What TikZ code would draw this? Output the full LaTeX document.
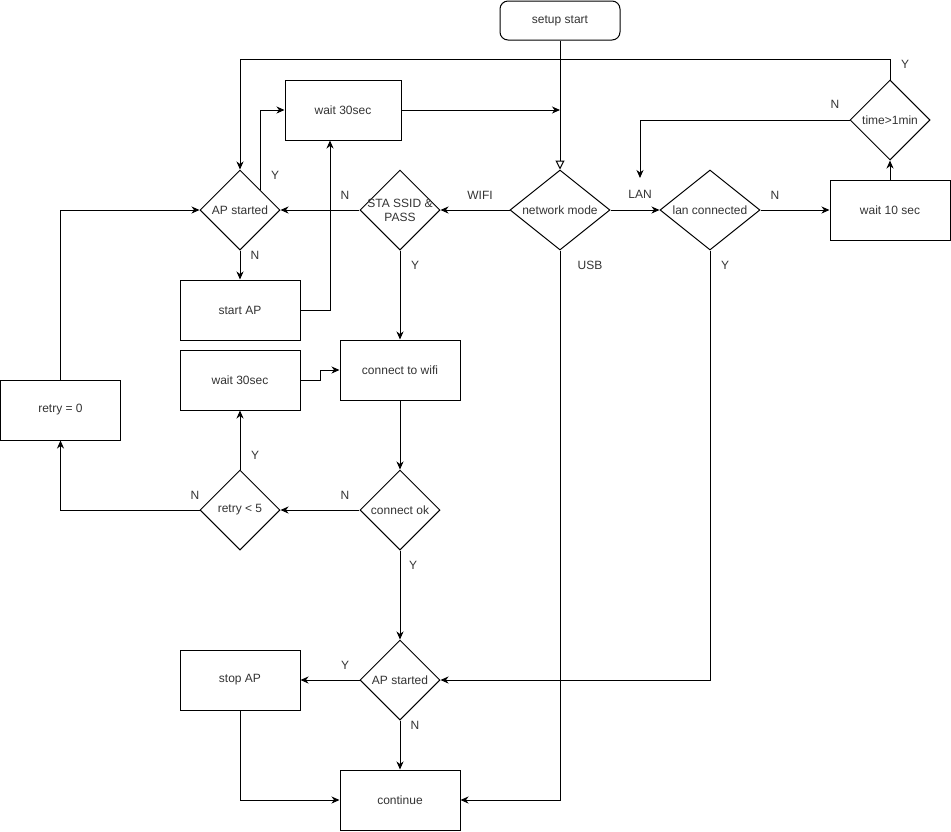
\documentclass[tikz,border=0pt]{standalone}
\usepackage{fontspec}
\setmainfont{Liberation Sans}
\usetikzlibrary{shapes.geometric, arrows.meta}
\tikzstyle{startstop} = [
    rectangle,
    rounded corners=8pt,
    minimum width=120pt,
    minimum height=39pt,
    draw=black
]
\tikzstyle{process} = [
    rectangle,
    minimum width=120pt,
    minimum height=60pt,
    draw=black
]
\tikzstyle{decision} = [
    diamond,
    inner sep=0pt,
    minimum width=80pt,
    minimum height=80pt,
    draw=black
]
\tikzstyle{answer} = [inner sep=0pt]
\tikzstyle{arrow} = [line width=1pt,->,>={Stealth[length=8pt,width=7pt,inset=2.5pt]}]
\tikzstyle{joinarrow} = [line width=1pt,-{Triangle[open,length=9pt,width=9pt]}]

\begin{document}
\begin{tikzpicture}[x=1pt, y=-1pt, line width=1pt,
    font=\fontsize{12}{14}\selectfont, text=black!80]
\useasboundingbox (0,0) rectangle (951,831);

\node (start) [startstop] at (560,20.5) {setup start};

\node (netmode) [decision, minimum width=100pt,
    label=center:network mode] at (560,210) {};
\node (sta) [decision,
    label={[align=center]center:STA SSID \&\\PASS}] at (400,210) {};
\node (apstart) [decision, label=center:AP started] at (240,210) {};
\node (wait1) [process, minimum width=116pt] at (343,110) {wait 30sec};
\node (startap) [process] at (240,310) {start AP};

\node (lanconn) [decision, minimum width=100pt,
    label=center:lan connected] at (710,210) {};
\node (wait10) [process] at (890,210) {wait 10 sec};
\node (timeout) [decision, label=center:time>1min] at (890,120) {};

\node (wifi) [process] at (400,370) {connect to wifi};
\node (wait2) [process] at (240,380) {wait 30sec};
\node (retry0) [process] at (60.5,410) {retry = 0};
\node (connok) [decision, label=center:connect ok] at (400,510) {};
\node (retry) [decision, label=center:retry < 5] at (240,510) {};

\node (apcheck) [decision, label=center:AP started] at (400,680) {};
\node (stopap) [process] at (240,680) {stop AP};
\node (cont) [process] at (400,800) {continue};

\coordinate (merge) at (560,110);
\coordinate (lanin) at (640,178);

% branch labels
\node (lwifi) [answer] at (480,195) {WIFI};
\node (llan) [answer] at (640,194) {LAN};
\node (lusb) [answer] at (590,265) {USB};
\node (lstan) [answer] at (345,195) {N};
\node (lstay) [answer] at (415,265) {Y};
\node (lapy) [answer] at (275,175) {Y};
\node (lapn) [answer] at (255,255) {N};
\node (llann) [answer] at (775,195) {N};
\node (llany) [answer] at (725,265) {Y};
\node (ltimen) [answer] at (835,104) {N};
\node (ltimey) [answer] at (905,64) {Y};
\node (lconnn) [answer] at (345,495) {N};
\node (lconny) [answer] at (413,565) {Y};
\node (lretryy) [answer] at (255,455) {Y};
\node (lretryn) [answer] at (195,495) {N};
\node (lcheckky) [answer] at (345,665) {Y};
\node (lcheckn) [answer] at (415,725) {N};

\draw [joinarrow] (start) -- (netmode);
\draw [arrow] (wait1) -- (merge);
\draw [arrow] (netmode) -- (sta);
\draw [arrow] (netmode) -- (lanconn);
\draw [arrow] (netmode.south) |- (cont.east);

\draw [arrow] (lanconn) -- (wait10);
\draw [arrow] (lanconn.south) |- (apcheck.east);
\draw [arrow] (wait10) -- (timeout);
\draw [arrow] (timeout.west) -| (lanin);
\draw [arrow] (timeout.north) -- ++(0,-20) -| (apstart.north);

\draw [arrow] (sta) -- (apstart);
\draw [arrow] (sta) -- (wifi);
\draw [arrow] (apstart.north east) |- (wait1.west);
\draw [arrow] (apstart) -- (startap);
\draw [arrow] (startap.east) -| ([xshift=-13pt]wait1.south);

\draw [arrow] (wifi) -- (connok);
\draw [arrow] (connok) -- (retry);
\draw [arrow] (retry) -- (wait2);
\draw [arrow] (wait2.east) -- ++(20,0) |- (wifi.west);
\draw [arrow] (retry.west) -| (retry0.south);
\draw [arrow] (retry0.north) |- (apstart.west);

\draw [arrow] (connok) -- (apcheck);
\draw [arrow] (apcheck) -- (stopap);
\draw [arrow] (apcheck) -- (cont);
\draw [arrow] (stopap.south) |- (cont.west);

\end{tikzpicture}
\end{document}
